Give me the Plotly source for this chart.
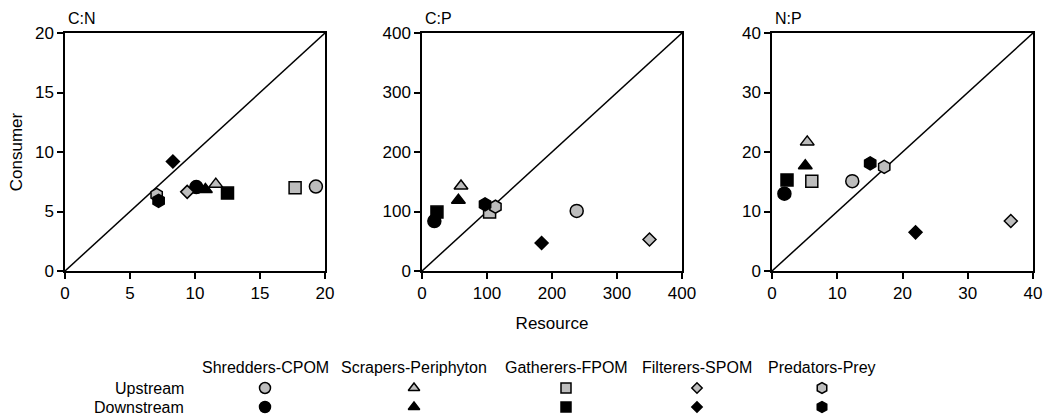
import plotly.graph_objects as go

# ---------------- data ----------------
groups = ["Shredders-CPOM", "Scrapers-Periphyton", "Gatherers-FPOM", "Filterers-SPOM", "Predators-Prey"]
symbols = ["circle", "triangle-up", "square", "diamond", "hexagon"]
sites = ["Upstream", "Downstream"]

panel_titles = ["C:N", "C:P", "N:P"]
axis_max = [20, 400, 40]
axis_dtick = [5, 100, 10]

# resource (x) and consumer (y) per group, for each ratio
cn_up_res = [19.3, 11.6, 17.7, 9.4, 7.05]
cn_up_con = [7.1, 7.3, 7.0, 6.65, 6.4]
cn_dn_res = [10.1, 10.8, 12.5, 8.3, 7.2]
cn_dn_con = [7.05, 6.85, 6.55, 9.2, 5.9]

cp_up_res = [238, 60, 104, 350, 113]
cp_up_con = [101, 143, 99, 53, 108]
cp_dn_res = [19, 56, 23, 184, 97]
cp_dn_con = [84, 119, 99, 47, 112]

np_up_res = [12.3, 5.4, 6.1, 36.6, 17.2]
np_up_con = [15.1, 21.7, 15.1, 8.4, 17.5]
np_dn_res = [1.9, 5.1, 2.3, 22.0, 15.05]
np_dn_con = [13.0, 17.7, 15.3, 6.5, 18.1]

panels = [
    (cn_up_res, cn_up_con, cn_dn_res, cn_dn_con),
    (cp_up_res, cp_up_con, cp_dn_res, cp_dn_con),
    (np_up_res, np_up_con, np_dn_res, np_dn_con),
]

# ---------------- style ----------------
W, H = 1045, 416
FONT = "Liberation Sans, Arial, sans-serif"
UP_FILL = "#bdbdbd"
DN_FILL = "#000000"
marker_size = {"circle": 13, "triangle-up": 12, "square": 12, "diamond": 10, "hexagon": 13}

# panel plot-area pixel boxes
px_x = [(65, 325), (422, 682), (772, 1033)]
px_y = (33, 271)

# legend layout (pixels)
legend_col_x = [265, 414, 566, 697, 822]
legend_row_y = [388, 407]
legend_header_y = 367
legend_label_right = 186

fig = go.Figure()

for i, (ur, uc, dr, dc) in enumerate(panels):
    ax = "" if i == 0 else str(i + 1)
    xa, ya = "x" + ax, "y" + ax
    m = axis_max[i]
    # 1:1 line
    fig.add_trace(go.Scatter(x=[0, m], y=[0, m], mode="lines",
                             line=dict(color="black", width=1.5),
                             xaxis=xa, yaxis=ya, showlegend=False, hoverinfo="skip"))
    for g in range(len(groups)):
        sym = symbols[g]
        sz = marker_size[sym]
        fig.add_trace(go.Scatter(x=[ur[g]], y=[uc[g]], mode="markers",
                                 marker=dict(symbol=sym, size=sz, color=UP_FILL,
                                             line=dict(color="black", width=1.5)),
                                 xaxis=xa, yaxis=ya, showlegend=False, cliponaxis=False,
                                 name=groups[g] + " " + sites[0]))
        fig.add_trace(go.Scatter(x=[dr[g]], y=[dc[g]], mode="markers",
                                 marker=dict(symbol=sym, size=sz, color=DN_FILL,
                                             line=dict(color="black", width=1.5)),
                                 xaxis=xa, yaxis=ya, showlegend=False, cliponaxis=False,
                                 name=groups[g] + " " + sites[1]))

    axis_common = dict(showline=True, linecolor="black", linewidth=1.5, mirror=True,
                       ticks="outside", ticklen=6, tickwidth=1.5, tickcolor="black",
                       showgrid=False, zeroline=False, automargin=False,
                       tickfont=dict(family=FONT, size=17, color="black"))
    x0, x1 = px_x[i]
    fig.update_layout({
        "xaxis" + ax: dict(domain=[x0 / W, x1 / W], range=[0, m], dtick=axis_dtick[i],
                           anchor=ya, **axis_common),
        "yaxis" + ax: dict(domain=[1 - px_y[1] / H, 1 - px_y[0] / H], range=[0, m],
                           dtick=axis_dtick[i], anchor=xa, **axis_common),
    })
    fig.add_annotation(x=x0 / W + 1 / W, y=1 - 19 / H, xref="paper", yref="paper",
                       text=panel_titles[i], showarrow=False, xanchor="left", yanchor="middle",
                       font=dict(family=FONT, size=16, color="black"))

fig.update_layout(yaxis_title=dict(text="Consumer", font=dict(family=FONT, size=17, color="black"),
                                   standoff=8))
fig.update_layout(xaxis2_title=dict(text="Resource", font=dict(family=FONT, size=17, color="black"),
                                    standoff=15))

# ---------------- legend table ----------------
for r, site in enumerate(sites):
    fill = UP_FILL if r == 0 else DN_FILL
    for g in range(len(groups)):
        sym = symbols[g]
        fig.add_trace(go.Scatter(x=[legend_col_x[g]], y=[legend_row_y[r]], mode="markers",
                                 marker=dict(symbol=sym, size=marker_size[sym] - 2, color=fill,
                                             line=dict(color="black", width=1.5)),
                                 xaxis="x4", yaxis="y4", showlegend=False, hoverinfo="skip"))
    fig.add_annotation(x=legend_label_right, y=legend_row_y[r], xref="x4", yref="y4",
                       text=site, showarrow=False, xanchor="right", yanchor="middle",
                       font=dict(family=FONT, size=16, color="black"))
for g in range(len(groups)):
    fig.add_annotation(x=legend_col_x[g], y=legend_header_y, xref="x4", yref="y4",
                       text=groups[g], showarrow=False, xanchor="center", yanchor="middle",
                       font=dict(family=FONT, size=16, color="black"))

fig.update_layout(
    xaxis4=dict(domain=[0, 1], range=[0, W], visible=False, anchor="y4", fixedrange=True),
    yaxis4=dict(domain=[0, 1], range=[H, 0], visible=False, anchor="x4", fixedrange=True),
    width=W, height=H,
    margin=dict(l=0, r=0, t=0, b=0, pad=0),
    paper_bgcolor="white", plot_bgcolor="rgba(0,0,0,0)",
    showlegend=False,
    font=dict(family=FONT, size=16, color="black"),
)

fig.write_html("out.html", config={"displayModeBar": False})
